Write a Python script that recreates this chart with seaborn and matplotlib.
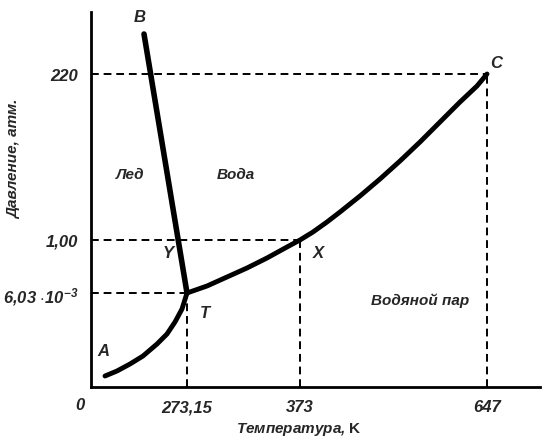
import matplotlib
matplotlib.use('Agg')
from matplotlib import pyplot as plt
import seaborn as sns

# Schematic phase diagram of water (axis units are schematic, not to scale)
x_ticks = [96, 209, 396]
x_labels = ['273,15', '373', '647']
y_ticks = [94, 147, 313]
y_labels = ['6,03 $\\cdot 10^{-3}$', '1,00', '220']

# sublimation curve A -> T
subl_x = [14, 26, 39, 52, 66, 76, 84, 91, 96]
subl_y = [11, 16, 23, 31, 43, 53, 65, 78, 94]

# melting line B -> T
melt_x = [53, 96]
melt_y = [353, 94]

# vaporization curve T -> X -> C
vap_x = [96, 116, 136, 156, 176, 196, 209, 222, 236, 249, 269, 289, 309,
         329, 349, 369, 386, 396]
vap_y = [94, 101, 110, 119, 129, 140, 147, 155, 165, 175, 191, 208, 226,
         245, 265, 285, 301, 313]

sns.set_style('white')
plt.rcParams['font.family'] = ['Liberation Sans', 'DejaVu Sans']
plt.rcParams['mathtext.fontset'] = 'custom'
plt.rcParams['mathtext.it'] = 'Liberation Sans:italic:bold'
plt.rcParams['mathtext.rm'] = 'Liberation Sans:italic:bold'
plt.rcParams['mathtext.bf'] = 'Liberation Sans:bold'
plt.rcParams['mathtext.default'] = 'it'

fig = plt.figure(figsize=(5.42, 4.39), dpi=100)
ax = fig.add_axes([91 / 542, 51 / 439, 449 / 542, 375 / 439])

curve = dict(sort=False, color='black', ax=ax, solid_joinstyle='round',
             solid_capstyle='round')
sns.lineplot(x=subl_x, y=subl_y, lw=3.5, **curve)
sns.lineplot(x=melt_x, y=melt_y, lw=4, **curve)
sns.lineplot(x=vap_x, y=vap_y, lw=3.5, **curve)

# dashed guide lines from the special points (T, X, C) to the axes
for xv, yv in zip(x_ticks, y_ticks):
    ax.plot([0, xv], [yv, yv], color='black', ls=(0, (4, 2.5)), lw=1.4)
    ax.plot([xv, xv], [0, yv], color='black', ls=(0, (4, 2.5)), lw=1.4)

ax.set_xlim(0, 449)
ax.set_ylim(0, 375)
sns.despine(ax=ax)
for s in ['left', 'bottom']:
    ax.spines[s].set_linewidth(2)
    ax.spines[s].set_color('black')

tfont = dict(fontsize=12, fontstyle='italic', fontweight='bold')
ax.set_xticks(x_ticks)
ax.set_xticklabels(x_labels, **tfont)
ax.set_yticks(y_ticks)
ax.set_yticklabels(y_labels, **tfont)
ax.tick_params(length=0, pad=9)
ax.text(-11, -18, '0', ha='center', va='center', clip_on=False, **tfont)

ax.set_xlabel('Температура, $\\mathbf{K}$', fontsize=11, fontweight='bold',
              fontstyle='italic')
ax.set_ylabel('Давление, атм.', fontsize=11, fontweight='bold',
              fontstyle='italic')
ax.xaxis.set_label_coords(0.463, -0.088)
ax.yaxis.set_label_coords(-0.155, 0.61)

lfont = dict(fontsize=12, fontstyle='italic', fontweight='bold',
             ha='center', va='center')
ax.text(49, 370, 'B', clip_on=False, **lfont)
ax.text(405, 324, 'C', **lfont)
ax.text(12, 36, 'A', **lfont)
ax.text(114, 75, 'T', **lfont)
ax.text(77, 134, 'Y', **lfont)
ax.text(227, 135, 'X', **lfont)

rfont = dict(fontsize=11, fontstyle='italic', fontweight='bold',
             ha='center', va='center')
ax.text(39, 213, 'Лед', **rfont)
ax.text(145, 213, 'Вода', **rfont)
ax.text(329, 87, 'Водяной пар', **rfont)

plt.savefig('out.png', dpi=100)
